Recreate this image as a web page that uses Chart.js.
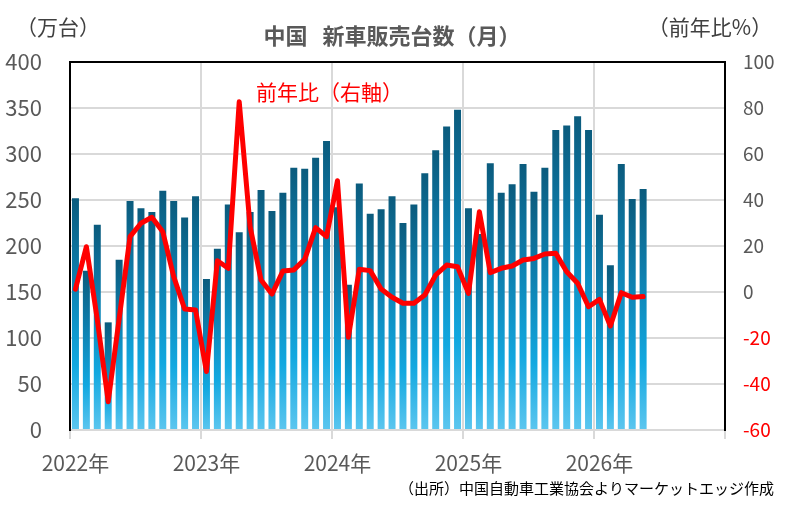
<!DOCTYPE html>
<html><head><meta charset="utf-8">
<script src="https://cdn.jsdelivr.net/npm/chart.js@4.4.1/dist/chart.umd.min.js"></script>
<style>html,body{margin:0;padding:0;background:#fff;} canvas{display:block;}</style>
</head><body>
<canvas id="c" width="788" height="509"></canvas>
<script>
const months = [
  '2022/01','2022/02','2022/03','2022/04','2022/05','2022/06','2022/07','2022/08','2022/09','2022/10','2022/11','2022/12',
  '2023/01','2023/02','2023/03','2023/04','2023/05','2023/06','2023/07','2023/08','2023/09','2023/10','2023/11','2023/12',
  '2024/01','2024/02','2024/03','2024/04','2024/05','2024/06','2024/07','2024/08','2024/09','2024/10','2024/11','2024/12',
  '2025/01','2025/02','2025/03','2025/04','2025/05','2025/06','2025/07','2025/08','2025/09','2025/10','2025/11','2025/12',
  '2026/01','2026/02','2026/03','2026/04','2026/05','2026/06','2026/07','2026/08','2026/09','2026/10','2026/11','2026/12'
];
const yearTicks = ['2022年','2023年','2024年','2025年','2026年'];
// 新車販売台数（万台）
const sales = [
  252, 173, 223, 117, 185, 249, 241, 237, 260, 249, 231, 254,
  164, 197, 245, 215, 237, 261, 238, 258, 285, 284, 296, 314,
  242, 158, 268, 235, 240, 254, 225, 245, 279, 304, 330, 348,
  241, 213, 290, 258, 267, 289, 259, 285, 326, 331, 341, 326,
  234, 179, 289, 251, 262
];
// 前年比（%）
const yoy = [
  1.2, 19.7, -12.0, -47.7, -11.7, 24.1, 29.9, 32.5, 26.2, 6.7, -7.4, -7.8,
  -34.6, 13.6, 10.3, 82.7, 28.4, 5.2, -0.9, 9.1, 9.6, 14.2, 28.0, 24.1,
  48.4, -19.7, 9.9, 9.3, 1.3, -2.3, -4.9, -4.9, -1.3, 7.4, 11.7, 11.0,
  -0.6, 34.9, 8.4, 10.3, 11.3, 13.9, 14.6, 16.5, 16.8, 8.8, 3.8, -6.4,
  -3.2, -14.8, -0.3, -2.3, -2.0
];

const FONT = "'Noto Sans CJK JP', 'Noto Sans', sans-serif";
const GRID = '#d9d9d9';

function barGradient(ctx) {
  if (ctx.type !== 'data') return '#12a6de';
  const chart = ctx.chart;
  const ys = chart.scales.y;
  if (!chart.chartArea || !ys) return '#12a6de';
  const top = ys.getPixelForValue(ctx.raw);
  const bot = ys.getPixelForValue(0);
  if (!isFinite(top) || !isFinite(bot) || top === bot) return '#12a6de';
  const g = chart.ctx.createLinearGradient(0, top, 0, bot);
  g.addColorStop(0, '#0b5b7d');
  g.addColorStop(0.35, '#0e7fae');
  g.addColorStop(0.72, '#12a8e0');
  g.addColorStop(1, '#5cc6ef');
  return g;
}

const textPlugin = {
  id: 'texts',
  afterDraw(chart) {
    const c = chart.ctx;
    c.save();
    c.textBaseline = 'middle';
    c.fillStyle = '#595959';
    c.font = 'bold 22px ' + FONT;
    c.textAlign = 'center';
    c.fillText('中国   新車販売台数（月）', 392, 36);
    c.fillStyle = '#404040';
    c.font = '21px ' + FONT;
    c.fillText('（万台）', 58, 27);
    c.fillText('（前年比%）', 710, 27);
    c.fillStyle = '#ff0000';
    c.font = '21px ' + FONT;
    c.textAlign = 'left';
    c.fillText('前年比（右軸）', 256, 92);
    c.fillStyle = '#000000';
    c.font = '15px ' + FONT;
    c.textAlign = 'right';
    c.fillText('（出所）中国自動車工業協会よりマーケットエッジ作成', 774, 488);
    c.restore();
  }
};

new Chart(document.getElementById('c'), {
  type: 'bar',
  data: {
    labels: months,
    datasets: [
      {
        type: 'line',
        label: '前年比',
        data: yoy,
        yAxisID: 'y1',
        borderColor: '#ff0000',
        borderWidth: 5,
        pointRadius: 0,
        tension: 0,
        borderJoinStyle: 'round',
        borderCapStyle: 'round',
        order: 0
      },
      {
        type: 'bar',
        label: '販売台数',
        data: sales,
        yAxisID: 'y',
        backgroundColor: barGradient,
        categoryPercentage: 1,
        barPercentage: 0.64,
        order: 1
      }
    ]
  },
  options: {
    responsive: false,
    animation: false,
    layout: { padding: { top: 62, left: 0, right: 0, bottom: 0 } },
    plugins: { legend: { display: false }, tooltip: { enabled: false }, title: { display: false } },
    scales: {
      x: {
        offset: true,
        grid: {
          offset: true,
          drawTicks: true,
          tickLength: 9,
          lineWidth: 2,
          color: (ctx) => {
            if (ctx.type !== 'tick' || ctx.index === undefined) return GRID;
            return ctx.index % 12 === 0 ? GRID : 'rgba(0,0,0,0)';
          }
        },
        border: { display: true, color: GRID, width: 2 },
        ticks: {
          autoSkip: false,
          maxRotation: 0,
          padding: 11,
          color: '#595959',
          font: { family: FONT, size: 21 },
          callback: (v, i) => (i % 12 === 0 ? yearTicks[i / 12] : '')
        },
        afterFit: (s) => { s.height = 79; }
      },
      y: {
        position: 'left',
        min: 0, max: 400,
        ticks: { stepSize: 50, padding: 28, color: '#595959', font: { family: FONT, size: 22 } },
        grid: {
          drawTicks: false,
          lineWidth: 2,
          color: (ctx) => (ctx.tick && ctx.tick.value === 400 ? '#000000' : GRID)
        },
        border: { display: true, color: '#000000', width: 2 },
        afterFit: (s) => { s.width = 70; }
      },
      y1: {
        position: 'right',
        min: -60, max: 100,
        ticks: {
          stepSize: 20, padding: 18,
          color: (ctx) => (ctx.tick && ctx.tick.value < 0 ? '#ff0000' : '#595959'),
          font: { family: FONT, size: 19 }
        },
        grid: { display: false, drawTicks: false },
        border: { display: true, color: '#000000', width: 2 },
        afterFit: (s) => { s.width = 63; }
      }
    }
  },
  plugins: [textPlugin]
});
</script>
</body></html>
